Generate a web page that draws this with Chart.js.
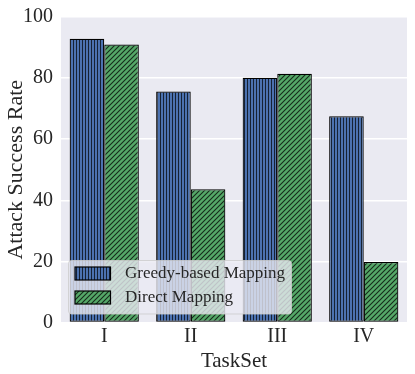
<!DOCTYPE html>
<html>
<head>
<meta charset="utf-8">
<script src="https://cdn.jsdelivr.net/npm/chart.js@4"></script>
<style>
  html, body { margin: 0; padding: 0; background: #ffffff; }
  #wrap { width: 415px; height: 374px; position: relative; }
</style>
</head>
<body>
<div id="wrap"><canvas id="grafico"></canvas></div>
<script>
// dados
const taskSets = ['I', 'II', 'III', 'IV'];
const greedyMapping = [92.9, 75.6, 80.1, 67.5];
const directMapping = [91.0, 43.6, 81.4, 19.8];
const yTicks = [0, 20, 40, 60, 80, 100];

const FONTE = '"Liberation Serif", "DejaVu Serif", serif';
const COR_TEXTO = '#262626';
const FUNDO_EIXO = '#EAEAF2';

// padrões de hachura (| e /)
function hachuraVertical(cor) {
    const c = document.createElement('canvas');
    c.width = 3; c.height = 3;
    const g = c.getContext('2d');
    g.fillStyle = cor;
    g.fillRect(0, 0, 3, 3);
    g.fillStyle = 'rgba(0,0,0,0.7)';
    g.fillRect(1, 0, 1, 3);
    return g.createPattern(c, 'repeat');
}

function hachuraDiagonal(cor) {
    const s = 5;
    const c = document.createElement('canvas');
    c.width = s; c.height = s;
    const g = c.getContext('2d');
    g.fillStyle = cor;
    g.fillRect(0, 0, s, s);
    g.strokeStyle = 'rgba(0,0,0,0.75)';
    g.lineWidth = 1.1;
    g.beginPath();
    g.moveTo(0, s); g.lineTo(s, 0);
    g.moveTo(-1, 1); g.lineTo(1, -1);
    g.moveTo(s - 1, s + 1); g.lineTo(s + 1, s - 1);
    g.stroke();
    return g.createPattern(c, 'repeat');
}

// fundo cinza-azulado da área do gráfico
const fundoPlugin = {
    id: 'fundo',
    beforeDraw(chart) {
        const { ctx, chartArea: a } = chart;
        ctx.save();
        ctx.fillStyle = FUNDO_EIXO;
        ctx.fillRect(a.left, a.top, a.right - a.left, a.bottom - a.top);
        ctx.restore();
    }
};

// legenda dentro do gráfico, canto inferior esquerdo
const legendaPlugin = {
    id: 'legendaInterna',
    afterDatasetsDraw(chart) {
        const { ctx, chartArea: a } = chart;
        const x = a.left + 7.5, y = a.bottom - 62, w = 223, h = 53.5;
        ctx.save();
        ctx.globalAlpha = 0.8;
        ctx.fillStyle = FUNDO_EIXO;
        ctx.strokeStyle = '#cccccc';
        ctx.lineWidth = 1;
        ctx.beginPath();
        ctx.roundRect(x, y, w, h, 3);
        ctx.fill();
        ctx.stroke();
        ctx.globalAlpha = 1;
        ctx.font = '17px ' + FONTE;
        ctx.textBaseline = 'middle';
        chart.data.datasets.forEach((ds, i) => {
            const hy = y + 6.5 + i * 24;
            ctx.fillStyle = ds.backgroundColor;
            ctx.fillRect(x + 6.5, hy, 35.5, 13);
            ctx.strokeStyle = '#000000';
            ctx.lineWidth = 1.2;
            ctx.strokeRect(x + 6.5, hy, 35.5, 13);
            ctx.fillStyle = COR_TEXTO;
            ctx.fillText(ds.label, x + 56.5, hy + 7);
        });
        ctx.restore();
    }
};

document.addEventListener('DOMContentLoaded', () => {
    const ctx = document.getElementById('grafico');
    new Chart(ctx, {
        type: 'bar',
        data: {
            labels: taskSets,
            datasets: [
                {
                    label: 'Greedy-based Mapping',
                    data: greedyMapping,
                    backgroundColor: hachuraVertical('#4C72B0'),
                    borderColor: '#000000',
                    borderWidth: 1.2,
                    borderSkipped: false
                },
                {
                    label: 'Direct Mapping',
                    data: directMapping,
                    backgroundColor: hachuraDiagonal('#55A868'),
                    borderColor: '#000000',
                    borderWidth: 1.2,
                    borderSkipped: false
                }
            ]
        },
        options: {
            responsive: true,
            maintainAspectRatio: false,
            animation: false,
            devicePixelRatio: 1,
            layout: { padding: { top: 12, right: 8, left: 3, bottom: 0 } },
            datasets: { bar: { categoryPercentage: 0.8, barPercentage: 1.0 } },
            plugins: {
                legend: { display: false },
                tooltip: { enabled: false }
            },
            scales: {
                x: {
                    grid: { display: false, drawTicks: false },
                    border: { display: false },
                    ticks: { color: COR_TEXTO, font: { family: FONTE, size: 20 }, padding: 2 },
                    title: { display: true, text: 'TaskSet', color: COR_TEXTO, font: { family: FONTE, size: 21 }, padding: { top: -3, bottom: 0 } },
                    afterFit(scale) { scale.height = 51.5; }
                },
                y: {
                    min: 0,
                    max: 100,
                    afterBuildTicks(scale) { scale.ticks = yTicks.map(v => ({ value: v })); },
                    grid: { color: '#ffffff', lineWidth: 1.5, drawTicks: false },
                    border: { display: false },
                    ticks: { color: COR_TEXTO, font: { family: FONTE, size: 20, lineHeight: 0.9 }, padding: 8 },
                    title: { display: true, text: 'Attack Success Rate', color: COR_TEXTO, font: { family: FONTE, size: 22 }, padding: { top: 0, bottom: 4 } },
                    afterFit(scale) { scale.width = 58; }
                }
            }
        },
        plugins: [fundoPlugin, legendaPlugin]
    });
});
</script>
</body>
</html>
